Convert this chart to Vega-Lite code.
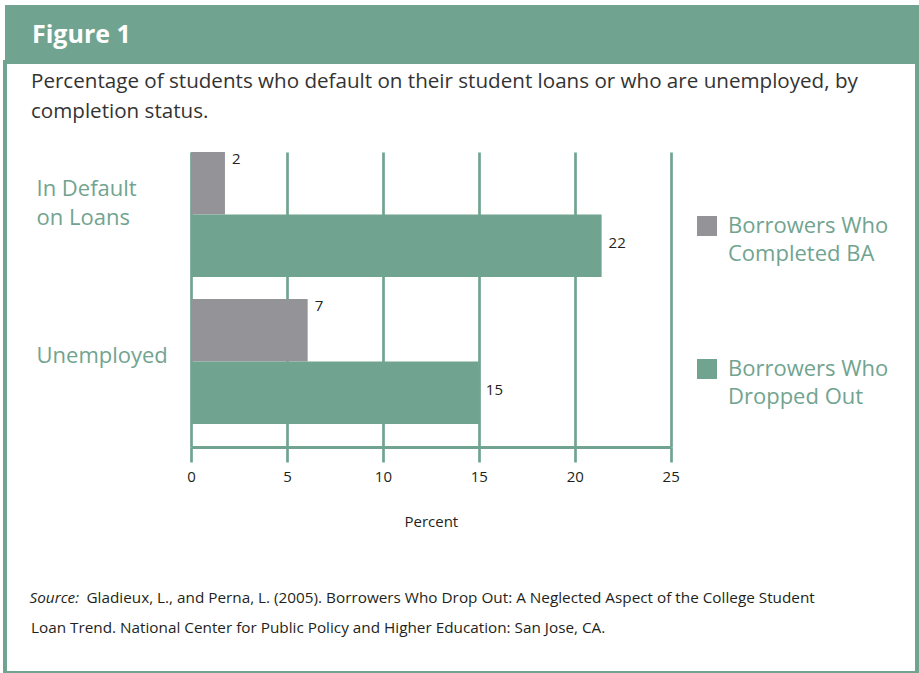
{
  "$schema": "https://vega.github.io/schema/vega-lite/v6.json",
  "background": "white",
  "padding": {"left": 3, "top": 5, "right": 0, "bottom": 0},
  "spacing": 0,
  "config": {"font": "Open Sans", "view": {"stroke": null}},
  "vconcat": [
    {
      "width": 914,
      "height": 55,
      "view": {"fill": "#71a490", "stroke": null},
      "data": {"values": [{}]},
      "mark": {"type": "text", "text": ""},
      "encoding": {},
      "title": {
        "text": "Figure 1",
        "orient": "top",
        "anchor": "start",
        "frame": "group",
        "offset": -43,
        "dx": 27,
        "color": "#ffffff",
        "fontSize": 25,
        "fontWeight": "bold",
        "font": "Open Sans"
      }
    },
    {
      "width": 912,
      "height": 611,
      "view": {"fill": "white", "stroke": "#71a490", "strokeWidth": 4},
      "title": {
        "text": ["Percentage of students who default on their student loans or who are unemployed, by", "completion status."],
        "subtitle": "Loan Trend. National Center for Public Policy and Higher Education: San Jose, CA.",
        "orient": "top",
        "anchor": "start",
        "frame": "group",
        "offset": -574,
        "dx": 26,
        "fontSize": 20.6,
        "fontWeight": "normal",
        "color": "#333333",
        "lineHeight": 30,
        "subtitleFontSize": 15.3,
        "subtitleColor": "#231f20",
        "subtitleLineHeight": 31,
        "subtitlePadding": 498,
        "subtitleFont": "Open Sans"
      },
      "data": {
        "values": [
          {"status": "In Default on Loans", "group": "Borrowers Who Completed BA", "value": 1.77, "label": "2"},
          {"status": "In Default on Loans", "group": "Borrowers Who Dropped Out", "value": 21.4, "label": "22"},
          {"status": "Unemployed", "group": "Borrowers Who Completed BA", "value": 6.08, "label": "7"},
          {"status": "Unemployed", "group": "Borrowers Who Dropped Out", "value": 15.0, "label": "15"}
        ]
      },
      "encoding": {
        "y": {
          "field": "status",
          "type": "nominal",
          "sort": ["In Default on Loans", "Unemployed"],
          "scale": {"range": [90, 385], "paddingInner": 0.15, "paddingOuter": 0.078, "align": 0},
          "axis": {
            "orient": "left",
            "offset": -31,
            "domain": false,
            "ticks": false,
            "tickSize": 0,
            "grid": false,
            "labelPadding": 0,
            "labelAlign": "left",
            "labelBaseline": "middle",
            "labelFontSize": 22,
            "labelColor": "#71a490",
            "labelLineHeight": 29,
            "labelLimit": 0,
            "labelExpr": "datum.value == 'In Default on Loans' ? ['In Default', 'on Loans'] : datum.label",
            "labelOffset": {"condition": {"test": "datum.value == 'Unemployed'", "value": -6}, "value": -26},
            "title": "Source:",
            "titleAngle": 0,
            "titleX": -7,
            "titleY": 540,
            "titleAlign": "left",
            "titleBaseline": "alphabetic",
            "titleFontSize": 15.3,
            "titleFontStyle": "italic",
            "titleFontWeight": "normal",
            "titleColor": "#231f20"
          }
        },
        "yOffset": {
          "field": "group",
          "type": "nominal",
          "sort": ["Borrowers Who Completed BA", "Borrowers Who Dropped Out"],
          "scale": {"domain": ["Borrowers Who Completed BA", "Borrowers Who Dropped Out"]}
        }
      },
      "layer": [
        {
          "mark": {"type": "bar"},
          "encoding": {
            "x": {
              "field": "value",
              "type": "quantitative",
              "scale": {"domain": [0, 25], "range": [186, 665.7], "nice": false, "zero": true},
              "axis": {
                "orient": "top",
                "grid": true,
                "gridColor": "#71a490",
                "gridWidth": 2.7,
                "gridOpacity": 1,
                "domain": false,
                "ticks": false,
                "labels": false,
                "values": [0, 5, 10, 15, 20, 25],
                "title": "Gladieux, L., and Perna, L. (2005). Borrowers Who Drop Out: A Neglected Aspect of the College Student",
                "titleX": 81,
                "titleY": 540,
                "titleAngle": 0,
                "titleAlign": "left",
                "titleBaseline": "alphabetic",
                "titleFontSize": 15.3,
                "titleFontWeight": "normal",
                "titleColor": "#231f20",
                "titleLimit": 0
              }
            },
            "color": {
              "field": "group",
              "type": "nominal",
              "scale": {"domain": ["Borrowers Who Completed BA", "Borrowers Who Dropped Out"], "range": ["#939398", "#71a490"]},
              "legend": {
                "orient": "none",
                "legendX": 691,
                "legendY": 210,
                "title": null,
                "padding": 0,
                "symbolType": "square",
                "symbolSize": 400,
                "symbolStrokeWidth": 0,
                "symbolOpacity": 1,
                "labelFontSize": 22,
                "labelColor": "#71a490",
                "labelBaseline": "middle",
                "labelOffset": 10,
                "labelLimit": 0,
                "rowPadding": 93,
                "labelExpr": "datum.value == 'Borrowers Who Completed BA' ? ['Borrowers Who', 'Completed BA'] : ['Borrowers Who', 'Dropped Out']",
                "encode": {"labels": {"update": {"lineHeight": {"value": 28}}}}
              }
            }
          }
        },
        {
          "transform": [{"filter": "datum.group == 'Borrowers Who Completed BA'"}],
          "mark": {"type": "text", "align": "left", "baseline": "middle", "dx": 7, "dy": -24, "fontSize": 15, "color": "#231f20"},
          "encoding": {
            "x": {
              "field": "value",
              "type": "quantitative",
              "axis": {
                "orient": "bottom",
                "offset": -226,
                "grid": false,
                "domain": true,
                "domainColor": "#71a490",
                "domainWidth": 3,
                "ticks": true,
                "tickColor": "#71a490",
                "tickWidth": 2.7,
                "tickSize": 15,
                "values": [0, 5, 10, 15, 20, 25],
                "labelFlush": false,
                "labelFontSize": 15,
                "labelColor": "#231f20",
                "labelPadding": 7,
                "title": "Percent",
                "titleFontSize": 15,
                "titleFontWeight": "normal",
                "titleColor": "#231f20",
                "titlePadding": 30
              }
            },
            "text": {"field": "label"}
          }
        },
        {
          "transform": [{"filter": "datum.group == 'Borrowers Who Dropped Out'"}],
          "mark": {"type": "text", "align": "left", "baseline": "middle", "dx": 7, "dy": -3, "fontSize": 15, "color": "#231f20"},
          "encoding": {
            "x": {"field": "value", "type": "quantitative", "axis": null},
            "text": {"field": "label"}
          }
        }
      ],
      "resolve": {"axis": {"x": "independent"}}
    }
  ]
}
